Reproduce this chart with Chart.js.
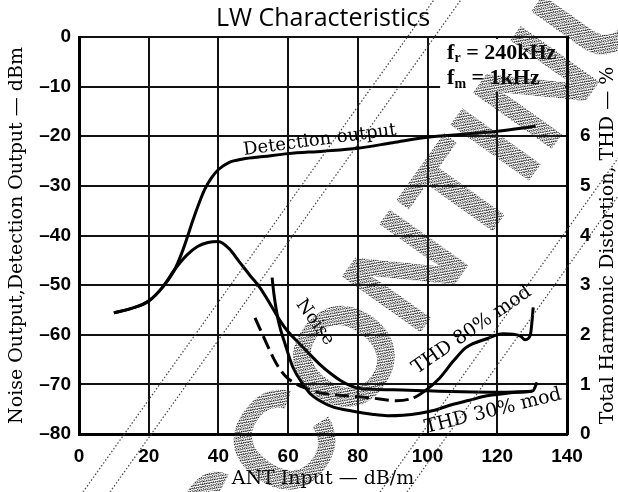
<!DOCTYPE html>
<html lang="en">
<head>
<meta charset="UTF-8">
<title>LW Characteristics</title>
<script src="https://cdn.jsdelivr.net/npm/chart.js"></script>
<style>
  html, body { margin: 0; padding: 0; background: #fff; }
</style>
</head>
<body>
<canvas id="lwChart" width="618" height="492"></canvas>
<script>
// ANT input in dB/m, outputs in dBm
const detX = [10, 15, 20, 24, 27.5, 29.5, 31, 32.5, 34, 36, 38, 40, 43, 47, 53, 60, 70, 80, 90, 100, 110, 120, 131];
const detY = [-55.6, -54.7, -53.2, -50.4, -46.8, -43.5, -40.5, -37.3, -34.3, -30.8, -28.4, -26.7, -25.3, -24.6, -24.1, -23.5, -23, -22.4, -21.3, -20.2, -19.6, -19, -18];

const noiseX = [10, 15, 20, 24, 27.5, 31, 34, 37, 40, 43, 46, 49, 52, 55, 57.7, 60, 63.4, 66, 69, 72, 75, 78, 81, 90, 100, 110, 120, 130];
const noiseY = [-55.6, -54.7, -53.2, -50.4, -46.8, -43.9, -42.2, -41.4, -41.2, -42.6, -45.3, -48, -50.6, -54, -57.2, -59.4, -61.9, -63.8, -65.9, -67.7, -69.2, -70.3, -70.9, -71.1, -71.3, -71.5, -71.6, -71.4];

// THD in %, right axis
const thd80X = [50.5, 53, 55.7, 57.5, 59.6, 62.5, 66, 69, 76.8, 83.5, 91, 96, 100, 103.5, 107.4, 111, 117, 121.7, 126.5, 128, 129.5, 130, 130.3];
const thd80Y = [2.34, 1.95, 1.54, 1.32, 1.14, 1.0, 0.9, 0.83, 0.77, 0.73, 0.67, 0.73, 0.91, 1.13, 1.47, 1.74, 1.92, 2.02, 1.98, 1.9, 2.0, 2.3, 2.55];

const thd30X = [55.4, 55.9, 57.2, 59.1, 61.4, 64.3, 66.5, 69.1, 73, 78.6, 84, 88.4, 93, 97.8, 102, 107.4, 112, 117, 121.7, 126, 130.2, 131.4];
const thd30Y = [3.15, 2.83, 2.28, 1.82, 1.34, 1.0, 0.8, 0.67, 0.54, 0.46, 0.40, 0.37, 0.38, 0.42, 0.48, 0.60, 0.68, 0.77, 0.81, 0.84, 0.87, 1.04];

const xTicks = [0, 20, 40, 60, 80, 100, 120, 140];
const thdTicks = [0, 1, 2, 3, 4, 5, 6];

function pts(xs, ys) {
    return xs.map((x, i) => ({ x: x, y: ys[i] }));
}

const serif = 'DejaVu Serif';
const ink = '#111';

function curve(label, data, axis) {
    return {
        label: label,
        data: data,
        yAxisID: axis,
        showLine: true,
        borderColor: '#000',
        borderWidth: 3,
        pointRadius: 0,
        cubicInterpolationMode: 'monotone',
        fill: false
    };
}

const thd80 = curve('THD 80% mod', pts(thd80X, thd80Y), 'y2');
// left part of the 80% curve is broken/dashed
thd80.segment = {
    borderDash: ctx => ctx.p1.parsed.x <= 97 ? [14, 6] : undefined
};

// text placed on the plot (value coordinates)
const notes = {
    beforeDatasetsDraw(chart) {
        const { ctx, scales: { x, y } } = chart;
        // blank patch behind the fr / fm note
        ctx.save();
        ctx.fillStyle = '#fff';
        const l = x.getPixelForValue(103.6), t = y.getPixelForValue(-0.4);
        ctx.fillRect(l, t, x.getPixelForValue(139.4) - l, y.getPixelForValue(-11) - t);
        ctx.restore();
    },
    afterDatasetsDraw(chart) {
        const { ctx, scales: { x, y } } = chart;
        ctx.save();
        ctx.fillStyle = '#000';
        ctx.textBaseline = 'middle';
        ctx.textAlign = 'center';

        function rotText(str, vx, vy, deg, font) {
            ctx.save();
            ctx.translate(x.getPixelForValue(vx), y.getPixelForValue(vy));
            ctx.rotate(deg * Math.PI / 180);
            ctx.font = font;
            ctx.fillText(str, 0, 0);
            ctx.restore();
        }
        rotText('Detection output', 69.1, -20.8, -7.5, '18px ' + serif);
        rotText('Noise', 67.7, -57.5, 54, '18px ' + serif);
        rotText('THD 80% mod', 112.7, -59.1, -34.7, '19px ' + serif);
        rotText('THD 30% mod', 118.8, -75.4, -14, '19px ' + serif);

        // fr = 240kHz, fm = 1kHz
        function freq(sub, rest, vy) {
            let px = x.getPixelForValue(105.6);
            const py = y.getPixelForValue(vy);
            ctx.textAlign = 'left';
            ctx.font = 'bold 22px Liberation Serif';
            ctx.fillText('f', px, py);
            px += ctx.measureText('f').width;
            ctx.font = 'bold 14px Liberation Serif';
            ctx.fillText(sub, px, py + 6);
            px += ctx.measureText(sub).width;
            ctx.font = 'bold 22px Liberation Serif';
            ctx.fillText(rest, px, py);
        }
        freq('r', ' = 240kHz', -3.2);
        freq('m', ' = 1kHz', -8.3);
        ctx.restore();

        // right axis title reads bottom to top
        const r = chart.scales.y2;
        ctx.save();
        ctx.translate(r.right - 10, (chart.chartArea.top + chart.chartArea.bottom) / 2 + 10);
        ctx.rotate(-Math.PI / 2);
        ctx.font = '19px ' + serif;
        ctx.fillStyle = '#000';
        ctx.textAlign = 'center';
        ctx.textBaseline = 'middle';
        ctx.fillText('Total Harmonic Distortion, THD — %', 0, 0);
        ctx.restore();
    }
};

// stippled "DISCONTINUED" stamp across the sheet
const stamp = {
    afterDraw(chart) {
        const ctx = chart.ctx;
        const tile = document.createElement('canvas');
        tile.width = 4; tile.height = 4;
        const tc = tile.getContext('2d');
        tc.fillStyle = '#222';
        [[0, 0], [2, 0], [1, 1], [3, 2], [0, 3], [2, 2]].forEach(p => tc.fillRect(p[0], p[1], 1, 1));
        const pattern = ctx.createPattern(tile, 'repeat');

        const ang = -54.5 * Math.PI / 180;
        ctx.save();
        // thin dotted rules along the stamp
        ctx.strokeStyle = '#444';
        ctx.lineWidth = 1.2;
        ctx.setLineDash([1.5, 2]);
        [83, 110, 380, 407].forEach(bx => {
            ctx.beginPath();
            ctx.moveTo(bx, 492);
            ctx.lineTo(bx + 492 * 0.713, 0);
            ctx.stroke();
        });
        ctx.setLineDash([]);

        ctx.translate(352, 362);
        ctx.rotate(ang);
        ctx.font = 'bold 140px Liberation Sans';
        ctx.textBaseline = 'middle';
        ctx.textAlign = 'left';
        const word = 'DISCONTINUED';
        const pre = ctx.measureText('DISC').width + ctx.measureText('O').width / 2;
        ctx.fillStyle = pattern;
        ctx.fillText(word, -pre, 0);
        ctx.restore();
    }
};

new Chart(document.getElementById('lwChart'), {
    type: 'scatter',
    data: {
        datasets: [
            curve('Detection output', pts(detX, detY), 'y'),
            curve('Noise', pts(noiseX, noiseY), 'y'),
            thd80,
            curve('THD 30% mod', pts(thd30X, thd30Y), 'y2')
        ]
    },
    options: {
        responsive: false,
        animation: false,
        devicePixelRatio: 1,
        layout: { padding: 0 },
        scales: {
            x: {
                type: 'linear',
                min: 0, max: 140,
                afterBuildTicks: s => { s.ticks = xTicks.map(v => ({ value: v })); },
                afterFit: s => { s.height = 58; },
                ticks: {
                    color: '#000',
                    padding: 11,
                    font: { family: 'Liberation Sans', size: 19, weight: 'bold' }
                },
                grid: { color: ink, lineWidth: 2, drawTicks: false },
                border: { color: '#000', width: 3 },
                title: {
                    display: true,
                    text: 'ANT Input — dB/m',
                    color: '#000',
                    font: { family: serif, size: 19 },
                    padding: { top: 0, bottom: 2 }
                }
            },
            y: {
                position: 'left',
                min: -80, max: 0,
                ticks: {
                    stepSize: 10,
                    color: '#000',
                    padding: 8,
                    font: { family: 'Liberation Sans', size: 19, weight: 'bold' },
                    callback: v => v < 0 ? '–' + Math.abs(v) : String(v)
                },
                afterFit: s => { s.width = 79; },
                grid: { color: ink, lineWidth: 2, drawTicks: false },
                border: { color: '#000', width: 3 },
                title: {
                    display: true,
                    text: 'Noise Output,Detection Output — dBm',
                    color: '#000',
                    font: { family: serif, size: 19 },
                    padding: { top: 6, bottom: 0 }
                }
            },
            y2: {
                position: 'right',
                min: 0, max: 8,
                afterBuildTicks: s => { s.ticks = thdTicks.map(v => ({ value: v })); },
                afterFit: s => { s.width = 51; },
                ticks: {
                    color: '#000',
                    padding: 13,
                    font: { family: 'Liberation Sans', size: 19, weight: 'bold' }
                },
                grid: { display: false, drawTicks: false },
                border: { color: '#000', width: 3 }
            }
        },
        plugins: {
            legend: { display: false },
            tooltip: { enabled: false },
            title: {
                display: true,
                text: 'LW Characteristics',
                color: '#000',
                fullSize: false,
                font: { family: 'Open Sans', size: 25, weight: 'normal' },
                padding: { top: 4, bottom: 3 }
            }
        }
    },
    plugins: [notes, stamp]
});
</script>
</body>
</html>
